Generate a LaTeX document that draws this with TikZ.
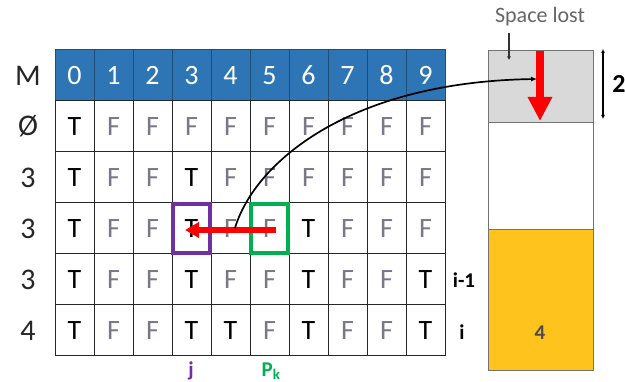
\documentclass[tikz,border=0pt]{standalone}
\usepackage{fontspec}
\setmainfont{Carlito}
\usetikzlibrary{arrows.meta}
\definecolor{hdrblue}{RGB}{46,117,182}
\definecolor{hdrline}{RGB}{31,78,121}
\definecolor{fgray}{RGB}{120,120,135}
\definecolor{lostgray}{RGB}{217,217,217}
\definecolor{barfill}{RGB}{255,195,30}
\definecolor{jpurple}{RGB}{112,48,160}
\definecolor{pkgreen}{RGB}{0,176,80}
\definecolor{arrred}{RGB}{255,0,0}
\tikzset{
  x=1pt, y=-1pt,
  cell/.style={draw=black!85, line width=1pt, minimum width=39pt, minimum height=51pt, inner sep=0pt, font=\fontsize{28}{28}\selectfont},
  hdr/.style={cell, draw=hdrline, fill=hdrblue, text=white},
  T/.style={cell, text=black},
  F/.style={cell, text=fgray},
  rowlab/.style={font=\fontsize{30}{30}\selectfont, text=black!85},
  barpart/.style={draw=black!55, line width=0.8pt, minimum width=105pt, inner sep=0pt},
  sidelab/.style={font=\bfseries\fontsize{21}{21}\selectfont},
  selbox/.style={line width=3.5pt, minimum width=37pt, minimum height=49pt, inner sep=0pt}
}
\begin{document}
\begin{tikzpicture}
\useasboundingbox (0,0) rectangle (625,382);
% header
\foreach \c in {0,...,9} {
  \node[hdr] (h\c) at ({55+39*\c+19.5},75.5) {\c};
}
% body rows
\foreach \v [count=\ci from 0] in {T,F,F,F,F,F,F,F,F,F}
  \node[\v] (c1-\ci) at ({55+39*\ci+19.5},126.5) {\v};
\foreach \v [count=\ci from 0] in {T,F,F,T,F,F,F,F,F,F}
  \node[\v] (c2-\ci) at ({55+39*\ci+19.5},177.5) {\v};
\foreach \v [count=\ci from 0] in {T,F,F,T,F,F,T,F,F,F}
  \node[\v] (c3-\ci) at ({55+39*\ci+19.5},228.5) {\v};
\foreach \v [count=\ci from 0] in {T,F,F,T,F,F,T,F,F,T}
  \node[\v] (c4-\ci) at ({55+39*\ci+19.5},279.5) {\v};
\foreach \v [count=\ci from 0] in {T,F,F,T,T,F,T,F,F,T}
  \node[\v] (c5-\ci) at ({55+39*\ci+19.5},330.5) {\v};
% row labels
\node[rowlab] (lM) at (28,75.5) {M};
\node[rowlab] (l1) at (28,126.5) {Ø};
\node[rowlab] (l2) at (28,177.5) {3};
\node[rowlab] (l3) at (28,228.5) {3};
\node[rowlab] (l4) at (28,279.5) {3};
\node[rowlab] (l5) at (28,330.5) {4};
% selection boxes
\node[selbox, draw=jpurple] (jbox) at (c3-3) {};
\node[selbox, draw=pkgreen] (pbox) at (c3-5) {};
% labels below / right
\node[sidelab, text=jpurple] (jlab) at (191,371) {j};
\node[sidelab, text=pkgreen] (pklab) at (271,371) {P\textsubscript{k}};
\node[sidelab] (im1) at (464,280) {i-1};
\node[sidelab] (ilab) at (462,332) {i};
% side bar
\node[barpart, fill=lostgray, minimum height=72pt, anchor=north west] (lost) at (488,50) {};
\node[barpart, fill=white, minimum height=107pt, anchor=north west] (free) at (488,122) {};
\node[barpart, fill=barfill, minimum height=141pt, anchor=north west] (used) at (488,229) {};
\node[font=\bfseries\fontsize{21}{21}\selectfont, text=black!70] (four) at (540,333) {4};
\node[font=\fontsize{22}{22}\selectfont, text=black!60] (spacelost) at (540,17) {Space lost};
\coordinate (sl1) at (509,33);
\coordinate (sl2) at (509,60);
\draw[black!80, line width=1.2pt, -{Latex[length=3.5pt,width=4pt]}] (sl1) -- (sl2);
% dimension
\coordinate (d1) at (603,49);
\coordinate (d2) at (603,119);
\draw[line width=1.2pt, {Latex[length=4pt,width=4pt]}-{Latex[length=4pt,width=4pt]}] (d1) -- (d2);
\node[font=\bfseries\fontsize{26}{26}\selectfont] (two) at (619,84) {2};
% red vertical arrow
\coordinate (rv1) at (540,51);
\coordinate (rv2) at (540,121);
\draw[arrred, line width=8.5pt, -{Triangle[length=24pt,width=23pt]}] (rv1) -- (rv2);
% red horizontal arrow
\coordinate (rh1) at (276,230);
\coordinate (rh2) at (185,230);
\draw[arrred, line width=5.5pt, -{Triangle[length=14pt,width=15pt]}] (rh1) -- (rh2);
% black curve
\coordinate (cv1) at (235,228);
\coordinate (cv2) at (537,79);
\draw[black, line width=1.7pt, -{Latex[length=6pt,width=5pt]}] (cv1) .. controls (255,162) and (350,82) .. (cv2);
\end{tikzpicture}
\end{document}
